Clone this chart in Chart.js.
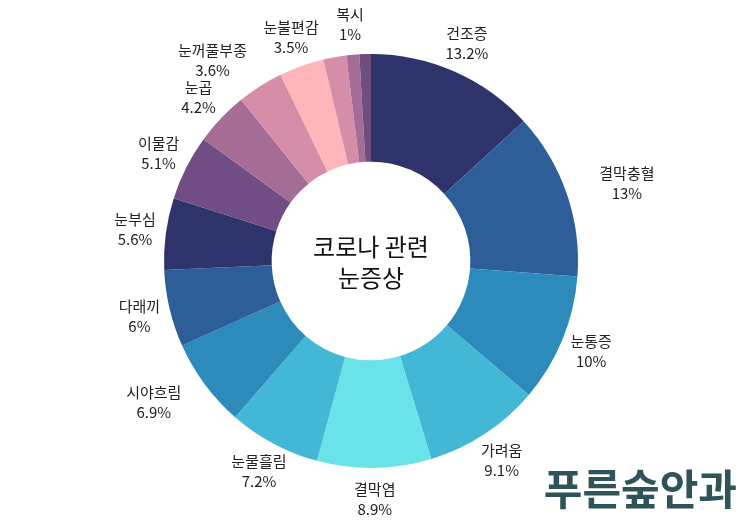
<!DOCTYPE html>
<html lang="ko">
<head>
<meta charset="utf-8">
<script src="https://cdn.jsdelivr.net/npm/chart.js@4.4.1/dist/chart.umd.min.js"></script>
<style>
    html, body { margin: 0; padding: 0; background: #fff; }
    #wrap { width: 743px; height: 527px; }
</style>
</head>
<body>
<div id="wrap"><canvas id="chart" width="743" height="527"></canvas></div>
<script>
// 코로나 관련 눈증상 (%)
const categories = ['건조증', '결막충혈', '눈통증', '가려움', '결막염', '눈물흘림', '시야흐림', '다래끼',
    '눈부심', '이물감', '눈곱', '눈꺼풀부종', '눈불편감', '', '복시', ''];
const values = [13.2, 13, 10, 9.1, 8.9, 7.2, 6.9, 6, 5.6, 5.1, 4.2, 3.6, 3.5, 1.8, 1, 0.9];
const centerTitle = ['코로나 관련', '눈증상'];
const logoText = '푸른숲안과';

const palette = ['#2f336b', '#2d5e99', '#2c8bba', '#42b7d6', '#6ae3e8', '#42b7d6', '#2c8bba', '#2d5e99',
    '#2f336b', '#714d85', '#a56c95', '#d48ea8', '#feb6bb', '#d48ea8', '#a56c95', '#6e4d7f'];

const FONT = "'Noto Sans CJK KR', 'Noto Sans', sans-serif";

// labels outside the ring + center title + logo
const labelPlugin = {
    id: 'ringLabels',
    afterDraw(chart, args, opts) {
        const ctx = chart.ctx;
        const meta = chart.getDatasetMeta(0);
        ctx.save();
        ctx.fillStyle = '#222';
        ctx.textAlign = 'center';
        ctx.textBaseline = 'middle';
        ctx.font = '15px ' + FONT;
        meta.data.forEach((arc, i) => {
            if (!categories[i]) return;
            const p = arc.getProps(['x', 'y', 'startAngle', 'endAngle', 'outerRadius'], true);
            const mid = (p.startAngle + p.endAngle) / 2;
            const r = p.outerRadius + opts.gap;
            // a few labels are pushed sideways to keep clear of their neighbours
            const x = p.x + Math.cos(mid) * r + (opts.shiftX[i] || 0);
            const y = p.y + Math.sin(mid) * r;
            ctx.fillText(categories[i], x, y - 10);
            ctx.fillText(values[i] + '%', x, y + 10);
        });

        // center title
        const c = meta.data[0];
        ctx.fillStyle = '#111';
        ctx.font = '24px ' + FONT;
        ctx.fillText(centerTitle[0], c.x, c.y - 14);
        ctx.fillText(centerTitle[1], c.x, c.y + 17);

        // logo
        ctx.fillStyle = '#2e5459';
        ctx.font = 'bold 42px ' + FONT;
        ctx.textAlign = 'right';
        ctx.fillText(logoText, 737, 489);
        ctx.restore();
    }
};

new Chart(document.getElementById('chart'), {
    type: 'doughnut',
    data: {
        labels: categories,
        datasets: [{
            data: values,
            backgroundColor: palette,
            borderWidth: 0,
            hoverOffset: 0
        }]
    },
    options: {
        responsive: false,
        animation: false,
        cutout: '48%',
        layout: {
            padding: { top: 54, bottom: 59, left: 0, right: 1 }
        },
        plugins: {
            legend: { display: false },
            tooltip: { enabled: false },
            ringLabels: {
                gap: 31,
                shiftX: { 1: 31, 6: -26, 11: -31 }
            }
        }
    },
    plugins: [labelPlugin]
});
</script>
</body>
</html>
